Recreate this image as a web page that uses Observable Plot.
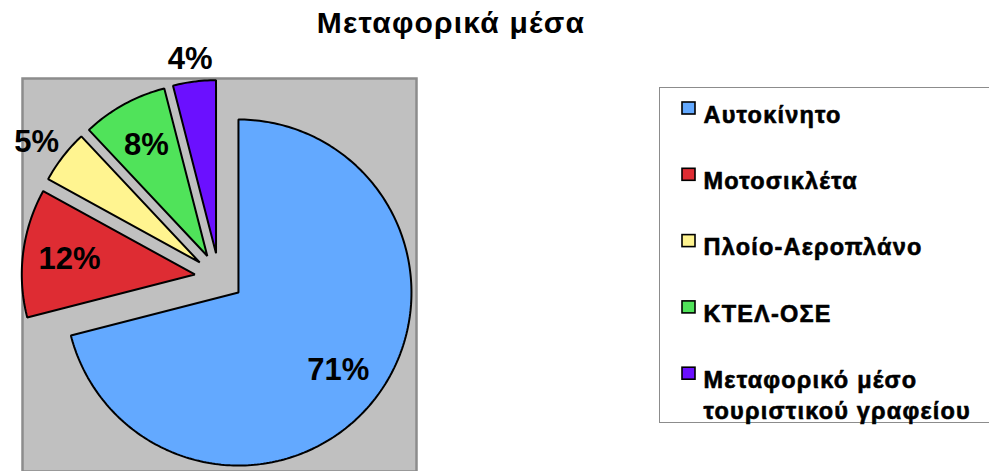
<!DOCTYPE html>
<html>
<head>
<meta charset="utf-8">
<script src="https://cdn.jsdelivr.net/npm/d3@7"></script>
<script src="https://cdn.jsdelivr.net/npm/@observablehq/plot@0.6"></script>
<style>
  html, body { margin: 0; padding: 0; background: #fff; }
  #wrap { position: relative; width: 989px; height: 471px; overflow: hidden; font-family: "Liberation Sans", Arial, sans-serif; }
  #title { position: absolute; left: 0; width: 902px; top: 5px; text-align: center; font-size: 30px; font-weight: bold; letter-spacing: 1.2px; color: #000; line-height: 36px; }
  #legendbox { position: absolute; left: 659px; top: 87px; width: 340px; height: 336px; border: 1.5px solid #8c8c8c; background: #fff; box-sizing: border-box; }
  #chart { position: absolute; left: 0; top: 0; }
</style>
</head>
<body>
<div id="wrap">
  <div id="legendbox"></div>
  <div id="chart"></div>
  <div id="title"></div>
</div>
<script>
const title = "Μεταφορικά μέσα";
const categories = ["Αυτοκίνητο", "Μοτοσικλέτα", "Πλοίο-Αεροπλάνο", "ΚΤΕΛ-ΟΣΕ", "Μεταφορικό μέσο τουριστικού γραφείου"];
const values = [71, 12, 5, 8, 4];
const labels = ["71%", "12%", "5%", "8%", "4%"];
const colors = ["#63a9ff", "#de2c33", "#fff490", "#50e35a", "#6b10ff"];

document.getElementById("title").textContent = title;

const W = 989, H = 471;
const frameL = 22, frameR = 416, frameT = 78, frameB = 471;
const cx = 218.6, cy = 277; // pie centre in page pixels
const R = 173, explode = 24.5;
const px = (x) => x - cx;
const py = (y) => cy - y;

const labelFont = 31;
const ctx = document.createElement("canvas").getContext("2d");
ctx.font = "bold " + labelFont + "px 'Liberation Sans', Arial, sans-serif";

const arcs = d3.pie().sort(null).startAngle(0).endAngle(2 * Math.PI)(values);

const slicePts = [];
const labelPts = [];
arcs.forEach((a, i) => {
  const mid = (a.startAngle + a.endAngle) / 2;
  const ux = Math.sin(mid), uy = Math.cos(mid);
  const ox = explode * ux, oy = explode * uy;
  slicePts.push({name: categories[i], x: ox, y: oy});
  const n = Math.max(2, Math.ceil((a.endAngle - a.startAngle) / (Math.PI / 180)));
  for (let k = 0; k <= n; k++) {
    const t = a.startAngle + (a.endAngle - a.startAngle) * k / n;
    slicePts.push({name: categories[i], x: ox + R * Math.sin(t), y: oy + R * Math.cos(t)});
  }
  if (values[i] >= 6) {
    const lr = explode + 0.73 * R;
    labelPts.push({label: labels[i], x: lr * ux, y: lr * uy});
  } else {
    // outside label: box placed just beyond the arc along the bisector
    const w = ctx.measureText(labels[i]).width, h = 0.78 * labelFont;
    const lr = explode + R + 11;
    labelPts.push({label: labels[i], x: lr * ux + ux * w / 2, y: lr * uy + uy * h / 2});
  }
});

const legFont = 23.5, legLine = 31, legStep = 66.3, legBase0 = 117;
const legendRows = categories.map((c, i) => {
  const base = legBase0 + legStep * i;
  return {
    name: c,
    text: c.replace("μέσο ", "μέσο\n"),
    x1: px(682), x2: px(695), y1: py(base - 3), y2: py(base - 15),
    tx: px(703), ty: py(base - 0.71 * legFont)
  };
});

const plot = Plot.plot({
  width: W,
  height: H,
  marginLeft: frameL,
  marginRight: W - frameR,
  marginTop: frameT,
  marginBottom: H - frameB,
  x: {domain: [px(frameL), px(frameR)], axis: null},
  y: {domain: [py(frameB), py(frameT)], axis: null},
  color: {domain: categories, range: colors},
  style: {fontFamily: "Liberation Sans, Arial, sans-serif", background: "transparent", overflow: "visible"},
  marks: [
    Plot.frame({fill: "#c0c0c0", stroke: "#8c8c8c", strokeWidth: 2.5}),
    Plot.line(slicePts, {x: "x", y: "y", z: "name", fill: "name", stroke: "#000", strokeWidth: 2, curve: "linear-closed", strokeLinejoin: "miter"}),
    Plot.text(labelPts, {x: "x", y: "y", text: "label", fontSize: labelFont, fontWeight: "bold", fill: "#000"}),
    Plot.rect(legendRows, {x1: "x1", x2: "x2", y1: "y1", y2: "y2", fill: "name", stroke: "#000", strokeWidth: 1.6}),
    Plot.text(legendRows, {x: "tx", y: "ty", text: "text", textAnchor: "start", lineAnchor: "top", lineHeight: legLine / legFont, fontSize: legFont, fontWeight: "bold", fill: "#000", stroke: "#000", strokeWidth: 0.6})
  ]
});
const textGroups = plot.querySelectorAll('g[aria-label="text"]');
const legendText = textGroups[textGroups.length - 1];
legendText.setAttribute("letter-spacing", "1.2px");
document.getElementById("chart").appendChild(plot);
</script>
</body>
</html>
